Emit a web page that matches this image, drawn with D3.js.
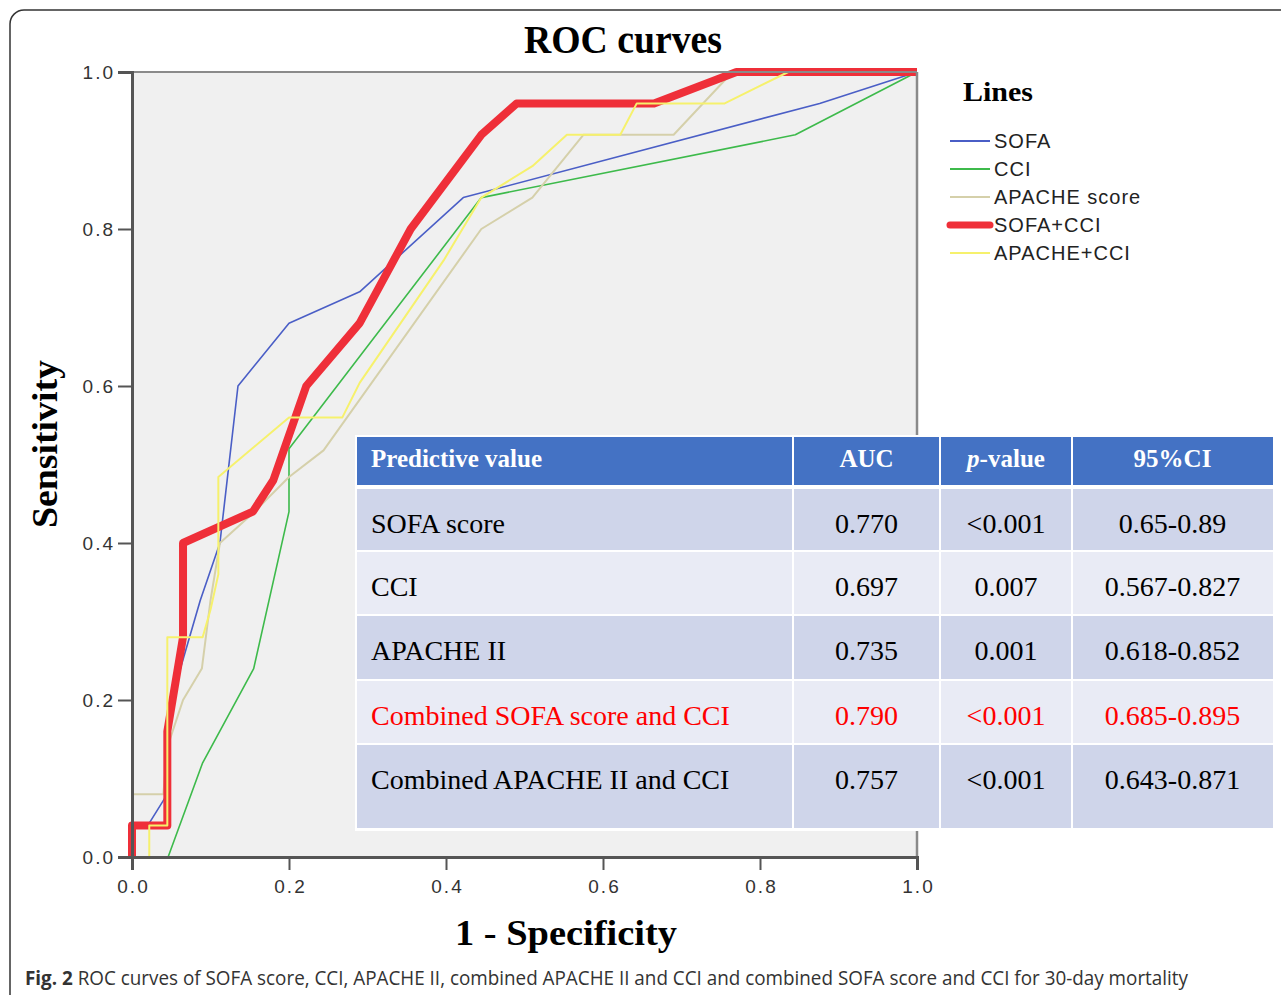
<!DOCTYPE html>
<html><head><meta charset="utf-8">
<script src="https://cdn.jsdelivr.net/npm/d3@7"></script>
<style>body{margin:0;background:#fff;} svg{display:block;}</style>
</head><body>
<svg id="c" width="1281" height="995"></svg>
<script>
// ---- data ----
const seriesNames = ["SOFA", "CCI", "APACHE score", "SOFA+CCI", "APACHE+CCI"];
const sofa = [[0,0],[0,0.04],[0.02,0.04],[0.045,0.08],[0.05,0.2],[0.087,0.327],[0.112,0.40],[0.135,0.60],[0.2,0.68],[0.29,0.72],[0.422,0.84],[0.876,0.96],[1,1]];
const cci = [[0,0],[0.046,0],[0.09,0.12],[0.155,0.24],[0.2,0.44],[0.2,0.52],[0.445,0.84],[0.845,0.92],[1,1]];
const apache = [[0,0],[0,0.08],[0.04,0.08],[0.045,0.14],[0.065,0.2],[0.089,0.24],[0.1,0.327],[0.112,0.40],[0.154,0.438],[0.2,0.484],[0.244,0.518],[0.445,0.80],[0.51,0.84],[0.575,0.92],[0.69,0.92],[0.765,1],[1,1]];
const sofaCci = [[0,0],[0,0.04],[0.045,0.04],[0.045,0.16],[0.065,0.28],[0.065,0.40],[0.154,0.44],[0.18,0.48],[0.222,0.60],[0.29,0.68],[0.355,0.80],[0.445,0.92],[0.49,0.96],[0.665,0.96],[0.77,1],[1,1]];
const apacheCci = [[0,0],[0.022,0],[0.022,0.04],[0.045,0.04],[0.045,0.28],[0.09,0.28],[0.1,0.315],[0.11,0.36],[0.11,0.484],[0.2,0.56],[0.268,0.56],[0.29,0.604],[0.397,0.76],[0.445,0.84],[0.51,0.88],[0.554,0.92],[0.622,0.92],[0.643,0.96],[0.755,0.96],[0.836,1],[1,1]];
const seriesData = [sofa, cci, apache, sofaCci, apacheCci];
const seriesColors = ["#4a5ec6", "#3dba4b", "#d5d0aa", "#ef2f39", "#f6f16c"];
const seriesWidths = [1.6, 1.6, 2, 8, 2];
const ticks = [0, 0.2, 0.4, 0.6, 0.8, 1.0];

const tableHeader = ["Predictive value", "AUC", "p-value", "95%CI"];
const tableNames = ["SOFA score", "CCI", "APACHE II", "Combined SOFA score and CCI", "Combined APACHE II and CCI"];
const tableAUC = ["0.770", "0.697", "0.735", "0.790", "0.757"];
const tableP = ["<0.001", "0.007", "0.001", "<0.001", "<0.001"];
const tableCI = ["0.65-0.89", "0.567-0.827", "0.618-0.852", "0.685-0.895", "0.643-0.871"];
const highlightRow = 3;

// ---- drawing ----
const svg = d3.select("#c");
svg.append("rect").attr("x",10).attr("y",10).attr("width",1320).attr("height",1040)
  .attr("rx",14).attr("fill","none").attr("stroke","#333").attr("stroke-width",1.5);

const x = d3.scaleLinear().domain([0,1]).range([132,917]);
const y = d3.scaleLinear().domain([0,1]).range([857,72]);

svg.append("rect").attr("x",x(0)).attr("y",y(1)).attr("width",x(1)-x(0)).attr("height",y(0)-y(1))
  .attr("fill","#f0f0f0");

const line = d3.line().x(d=>x(d[0])).y(d=>y(d[1]));
const g = svg.append("g");
seriesData.forEach((s,i)=>{
  g.append("path").datum(s).attr("d",line).attr("fill","none")
    .attr("stroke",seriesColors[i]).attr("stroke-width",seriesWidths[i])
    .attr("stroke-linejoin","round").attr("stroke-linecap","butt");
});

svg.append("line").attr("x1",x(0)).attr("x2",x(1)).attr("y1",y(1)).attr("y2",y(1)).attr("stroke","#8a8a8a").attr("stroke-width",2);
svg.append("line").attr("x1",x(1)).attr("x2",x(1)).attr("y1",y(1)).attr("y2",y(0)).attr("stroke","#8a8a8a").attr("stroke-width",2.5);

const yAxis = d3.axisLeft(y).tickValues(ticks).tickFormat(d3.format(".1f")).tickSize(14).tickPadding(3);
const xAxis = d3.axisBottom(x).tickValues(ticks).tickFormat(d3.format(".1f")).tickSize(13).tickPadding(5);
const ya = svg.append("g").attr("transform",`translate(${x(0)},0)`).call(yAxis);
const xa = svg.append("g").attr("transform",`translate(0,${y(0)})`).call(xAxis);
[ya,xa].forEach(a=>{
  a.attr("font-family",null).attr("font-size",null);
  a.select(".domain").attr("stroke","#555").attr("stroke-width",3);
  a.selectAll(".tick line").attr("stroke","#555").attr("stroke-width",2);
  a.selectAll(".tick text").style("font-family","'Liberation Sans', Arial, sans-serif")
    .style("font-size","19px").attr("letter-spacing","2px").attr("fill","#333");
});
xa.selectAll(".tick text").attr("dy","0.95em").attr("dx","1px");

const serif = "'Liberation Serif', 'Times New Roman', serif";
svg.append("text").attr("x",623).attr("y",53).attr("text-anchor","middle")
  .style("font-family",serif).attr("font-weight","bold")
  .attr("font-size",40).attr("textLength",198).attr("lengthAdjust","spacingAndGlyphs").text("ROC curves");
svg.append("text").attr("transform","translate(57,444) rotate(-90)").attr("text-anchor","middle")
  .style("font-family",serif).attr("font-weight","bold")
  .attr("font-size",36).attr("textLength",168).attr("lengthAdjust","spacingAndGlyphs").text("Sensitivity");
svg.append("text").attr("x",455).attr("y",945)
  .style("font-family",serif).attr("font-weight","bold")
  .attr("font-size",36).attr("textLength",222).attr("lengthAdjust","spacingAndGlyphs").text("1 -  Specificity");

// legend
svg.append("text").attr("x",963).attr("y",101)
  .style("font-family",serif).attr("font-weight","bold")
  .attr("font-size",27).attr("textLength",70).attr("lengthAdjust","spacingAndGlyphs").text("Lines");
const legY = d3.scalePoint().domain(seriesNames).range([141,253]);
const lg = svg.append("g");
seriesNames.forEach((n,i)=>{
  const yy = legY(n);
  lg.append("line").attr("x1",950).attr("x2",990).attr("y1",yy).attr("y2",yy)
    .attr("stroke",seriesColors[i]).attr("stroke-width",i===3?7:Math.max(2,seriesWidths[i]))
    .attr("stroke-linecap",i===3?"round":"butt");
  lg.append("text").attr("x",994).attr("y",yy).attr("dy","0.35em")
    .style("font-family","'Liberation Sans', Arial, sans-serif").attr("font-size",20)
    .attr("letter-spacing","1px").attr("fill","#222").text(n);
});

// table
const colEdges = [357, 793, 940, 1072, 1273];
const headerTop = 437, headerBot = 485;
const rowTops = [489, 552, 616, 681, 745];
const rowBots = [550, 614, 679, 743, 828];
const tg = svg.append("g");
tg.append("rect").attr("x",colEdges[0]-2).attr("y",headerTop-2).attr("width",colEdges[4]-colEdges[0]+4)
  .attr("height",rowBots[4]-headerTop+5).attr("fill","#fff");
for (let c=0;c<4;c++){
  const x0 = colEdges[c]+(c>0?1:0), x1 = colEdges[c+1]-(c<3?1:0);
  tg.append("rect").attr("x",x0).attr("y",headerTop).attr("width",x1-x0).attr("height",headerBot-headerTop).attr("fill","#4472c4");
  rowTops.forEach((t,r)=>{
    tg.append("rect").attr("x",x0).attr("y",t).attr("width",x1-x0).attr("height",rowBots[r]-t)
      .attr("fill", r%2===0 ? "#cfd5ea" : "#e9ebf5");
  });
}
tg.append("text").attr("x",371).attr("y",headerTop+30).style("font-family",serif).attr("font-weight","bold")
  .attr("font-size",25).attr("fill","#fff").text(tableHeader[0]);
[1,2,3].forEach(c=>{
  const t = tg.append("text").attr("x",(colEdges[c]+colEdges[c+1])/2).attr("y",headerTop+30)
    .attr("text-anchor","middle").style("font-family",serif).attr("font-weight","bold")
    .attr("font-size",25).attr("fill","#fff");
  if (tableHeader[c].startsWith("p-")) {
    t.append("tspan").attr("font-style","italic").text("p");
    t.append("tspan").text(tableHeader[c].slice(1));
  } else t.text(tableHeader[c]);
});
const cols = [tableNames, tableAUC, tableP, tableCI];
rowTops.forEach((t,r)=>{
  const fill = r===highlightRow ? "#ff0000" : "#000";
  cols.forEach((col,c)=>{
    tg.append("text").attr("x", c===0 ? 371 : (colEdges[c]+colEdges[c+1])/2).attr("y",t+44)
      .attr("text-anchor", c===0 ? "start" : "middle").style("font-family",serif)
      .attr("font-size",28).attr("fill",fill).text(col[r]);
  });
});

// caption
const cap = svg.append("text").attr("x",25).attr("y",985)
  .style("font-family","'Open Sans', 'Noto Sans', sans-serif").attr("font-size",20).attr("fill","#333")
  .attr("textLength",1163).attr("lengthAdjust","spacingAndGlyphs");
cap.append("tspan").attr("font-weight","bold").text("Fig. 2");
cap.append("tspan").text(" ROC curves of SOFA score, CCI, APACHE II, combined APACHE II and CCI and combined SOFA score and CCI for 30-day mortality");
</script>
</body></html>
